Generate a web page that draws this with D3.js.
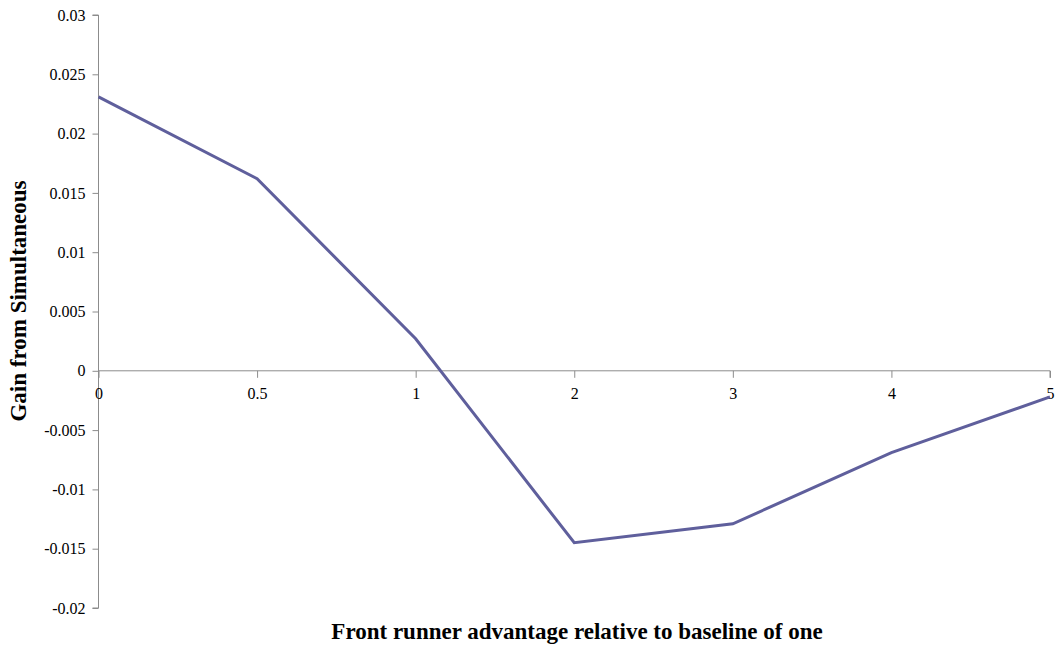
<!DOCTYPE html>
<html><head><meta charset="utf-8">
<script src="https://cdn.jsdelivr.net/npm/d3@7"></script>
<style>body{margin:0;background:#fff}svg{display:block}svg text{font-family:"Liberation Serif","Times New Roman",Times,serif !important}</style>
</head><body>
<svg id="c" width="1057" height="647"></svg>
<script>
const categories = ["0","0.5","1","2","3","4","5"];
const values = [0.0231, 0.0162, 0.0027, -0.0145, -0.0129, -0.0069, -0.0022];
const yTicks = [0.03,0.025,0.02,0.015,0.01,0.005,0,-0.005,-0.01,-0.015,-0.02];
const yTickLabels = ["0.03","0.025","0.02","0.015","0.01","0.005","0","-0.005","-0.01","-0.015","-0.02"];

const FONT = '"Liberation Serif", "Times New Roman", serif';
const svg = d3.select("#c");
const x = d3.scalePoint().domain(categories).range([98.5, 1050]);
const y = d3.scaleLinear().domain([-0.02, 0.03]).range([608, 15]);
const axisColor = "#8c8c8c";

const yAxis = svg.append("g").attr("transform","translate(98.5,0)")
  .call(d3.axisLeft(y).tickValues(yTicks).tickSize(6).tickPadding(7)
    .tickFormat((d,i)=>yTickLabels[i]));
yAxis.attr("font-family", FONT);
yAxis.select(".domain").attr("stroke",axisColor).attr("d","M-6,"+y(0.03)+"H0V"+y(-0.02)+"H-6");
yAxis.selectAll(".tick line").attr("stroke",axisColor);
yAxis.selectAll("text").style("font-size","16px").attr("fill","#000").style("font-family",FONT);

const xAxis = svg.append("g").attr("transform","translate(0,"+y(0)+")")
  .call(d3.axisBottom(x).tickSize(7).tickPadding(10));
xAxis.attr("font-family", FONT);
xAxis.select(".domain").attr("stroke",axisColor).attr("d","M98.5,0H1050V7");
xAxis.selectAll(".tick line").attr("stroke",axisColor);
xAxis.selectAll("text").style("font-size","16px").attr("fill","#000").style("font-family",FONT);

const line = d3.line().x((d,i)=>x(categories[i])).y(d=>y(d));
svg.append("path").datum(values).attr("d",line)
  .attr("fill","none").attr("stroke","#5f5f9c").attr("stroke-width",3).attr("stroke-linejoin","miter");

svg.append("text").attr("x",577).attr("y",639).attr("text-anchor","middle")
  .style("font-family",FONT).style("font-weight","bold").style("font-size","23px")
  .text("Front runner advantage relative to baseline of one");
svg.append("text").attr("transform","translate(26,301) rotate(-90)").attr("text-anchor","middle")
  .style("font-family",FONT).style("font-weight","bold").style("font-size","23px")
  .text("Gain from Simultaneous");
</script>
</body></html>
